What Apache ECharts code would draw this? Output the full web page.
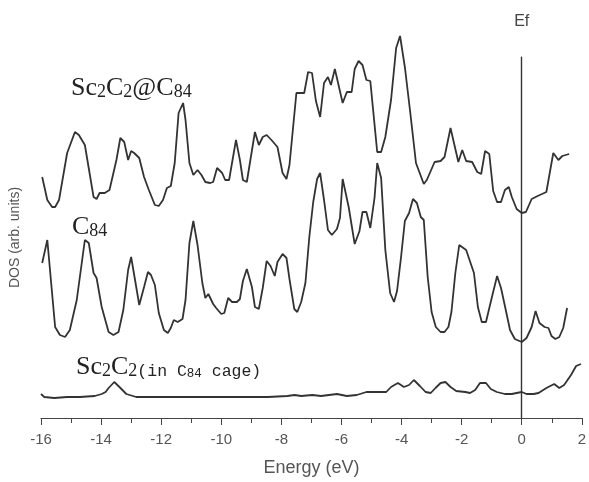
<!DOCTYPE html>
<html>
<head>
<meta charset="utf-8">
<title>DOS</title>
<script src="https://cdn.jsdelivr.net/npm/echarts@6/dist/echarts.min.js"></script>
<style>
  html, body { margin: 0; padding: 0; background: #fff; }
  #chart { width: 589px; height: 482px; }
</style>
</head>
<body>
<div id="chart"></div>
<script>
// energy axis ticks (eV)
var xTicks = [-16, -14, -12, -10, -8, -6, -4, -2, 0, 2];

// Sc2C2@C84 (top curve, offset upward)
var eTop = [-15.96, -15.79, -15.63, -15.53, -15.40, -15.13, -14.87, -14.74, -14.54, -14.25, -14.15, -14.05, -13.88, -13.72,
  -13.49, -13.36, -13.23, -13.10, -13.00, -12.90, -12.73, -12.57, -12.41, -12.21, -12.08, -11.94, -11.81, -11.68, -11.55,
  -11.42, -11.27, -11.19, -11.06, -10.93, -10.79, -10.66, -10.53, -10.37, -10.27, -10.14, -9.97, -9.87, -9.74, -9.51, -9.38,
  -9.28, -9.15, -8.88, -8.75, -8.62, -8.49, -8.33, -8.13, -7.96, -7.83, -7.73, -7.50, -7.24, -7.11, -6.98, -6.85, -6.71,
  -6.58, -6.45, -6.35, -6.22, -6.09, -5.96, -5.82, -5.66, -5.56, -5.43, -5.30, -5.17, -5.04, -4.81, -4.68, -4.54, -4.35,
  -4.18, -4.05, -3.89, -3.72, -3.52, -3.26, -3.16, -2.90, -2.70, -2.57, -2.37, -2.24, -2.11, -1.98, -1.85, -1.65, -1.48,
  -1.35, -1.22, -1.08, -0.95, -0.82, -0.69, -0.56, -0.43, -0.33, -0.17, 0.00, 0.14, 0.33, 0.53, 0.82, 1.05, 1.22, 1.35, 1.58];
var dosTop = [241, 218, 211, 211, 218, 265, 286, 283, 273, 221, 219, 225, 225, 228,
  258, 280, 276, 258, 267, 265, 260, 241, 228, 213, 212, 218, 230, 232, 255,
  305, 315, 298, 255, 243, 248, 243, 236, 235, 236, 250, 245, 238, 238, 278, 258,
  238, 236, 286, 273, 281, 283, 278, 271, 245, 239, 253, 325, 325, 346, 345, 317, 301,
  335, 341, 333, 349, 332, 315, 326, 326, 349, 357, 353, 338, 337, 266, 266, 281, 318,
  370, 382, 351, 308, 255, 234, 238, 256, 257, 261, 290, 273, 256, 268, 257, 256, 246,
  244, 267, 264, 227, 216, 216, 228, 231, 221, 209, 205, 206, 219, 222, 226, 265, 258, 262, 264];

// C84 (middle curve)
var eMid = [-15.96, -15.79, -15.53, -15.37, -15.20, -15.04, -14.81, -14.54, -14.41, -14.25, -14.15, -13.98, -13.75, -13.59,
  -13.42, -13.26, -13.10, -13.00, -12.87, -12.73, -12.57, -12.44, -12.34, -12.21, -12.08, -11.91, -11.78, -11.68, -11.58,
  -11.45, -11.29, -11.19, -11.06, -10.93, -10.79, -10.63, -10.53, -10.43, -10.27, -10.17, -10.00, -9.90, -9.77, -9.64,
  -9.48, -9.38, -9.28, -9.15, -8.98, -8.88, -8.75, -8.62, -8.49, -8.36, -8.22, -8.13, -7.96, -7.83, -7.73, -7.57, -7.47,
  -7.34, -7.20, -7.07, -6.94, -6.81, -6.71, -6.58, -6.45, -6.32, -6.15, -6.05, -5.96, -5.76, -5.56, -5.40, -5.30, -5.17,
  -5.04, -4.90, -4.81, -4.68, -4.54, -4.38, -4.25, -4.15, -4.02, -3.89, -3.75, -3.62, -3.49, -3.36, -3.26, -3.13, -3.00,
  -2.86, -2.70, -2.57, -2.44, -2.34, -2.21, -2.08, -1.85, -1.59, -1.46, -1.33, -1.19, -1.00, -0.82, -0.69, -0.56, -0.39,
  -0.23, 0.00, 0.16, 0.33, 0.46, 0.59, 0.76, 0.89, 0.99, 1.12, 1.25, 1.38, 1.51];
var dosMid = [155, 178, 91, 83, 81, 88, 118, 178, 175, 145, 140, 111, 86, 83,
  86, 108, 148, 161, 138, 113, 131, 146, 143, 133, 105, 88, 85, 90, 98,
  96, 99, 118, 175, 197, 173, 135, 120, 124, 114, 110, 104, 105, 120, 116,
  116, 119, 137, 149, 131, 111, 109, 130, 157, 152, 142, 156, 164, 160, 139, 109, 106,
  116, 135, 181, 216, 239, 245, 218, 188, 183, 189, 200, 239, 211, 174, 187, 206, 206,
  190, 220, 255, 240, 168, 125, 116, 127, 160, 197, 205, 219, 215, 201, 198, 141, 106,
  91, 86, 86, 91, 106, 145, 173, 168, 145, 111, 96, 96, 120, 142, 130, 112, 88,
  79, 76, 80, 91, 107, 95, 91, 90, 82, 79, 81, 90, 110];

// Sc2C2 inside the C84 cage (bottom curve)
var eBot = [-16.00, -15.89, -15.56, -15.13, -14.71, -14.21, -13.98, -13.85, -13.75, -13.56, -13.39, -13.16, -12.83, -11.75,
  -10.62, -9.54, -8.45, -7.80, -7.56, -7.34, -6.97, -6.68, -6.15, -5.82, -5.49, -5.17, -4.51, -4.35, -4.12, -3.92,
  -3.75, -3.59, -3.39, -3.20, -3.03, -2.87, -2.70, -2.54, -2.37, -2.18, -1.88, -1.72, -1.55, -1.39, -1.19, -1.03,
  -0.83, -0.56, -0.33, -0.17, 0.00, 0.16, 0.39, 0.56, 0.82, 1.08, 1.25, 1.41, 1.64, 1.81, 1.97];
var dosBot = [24, 21, 20, 21, 21, 22, 24, 26, 30, 36, 31, 24, 21, 21,
  21, 21, 21, 22, 23, 22, 23, 22, 24, 22, 23, 26, 26, 31, 35, 31,
  33, 38, 32, 26, 25, 30, 35, 36, 31, 27, 26, 25, 28, 35, 35, 29,
  26, 24, 24, 25, 26, 24, 24, 25, 30, 34, 30, 33, 43, 52, 54];

function pairs(xs, ys) {
  return xs.map(function (x, i) { return [x, ys[i]]; });
}

var chart = echarts.init(document.getElementById('chart'));

var lineStyle = { color: '#333', width: 1.8 };
var serif = 'Liberation Serif, serif';

var option = {
  animation: false,
  backgroundColor: '#fff',
  grid: { left: 38.7, right: 3, top: 57, bottom: 64 },
  xAxis: {
    type: 'value',
    min: -16,
    max: 2,
    interval: 2,
    name: 'Energy (eV)',
    nameLocation: 'middle',
    nameGap: 41,
    nameTextStyle: { fontSize: 18, color: '#555', fontFamily: 'Liberation Sans Narrow, Liberation Sans, sans-serif' },
    axisLine: { lineStyle: { color: '#444', width: 1.2 } },
    axisTick: { length: 7, lineStyle: { color: '#444' } },
    minorTick: { show: true, splitNumber: 2, length: 5, lineStyle: { color: '#444' } },
    axisLabel: {
      fontSize: 15, color: '#555', margin: 14,
      fontFamily: 'Liberation Sans Narrow, Liberation Sans, sans-serif',
      formatter: function (v) { return xTicks.indexOf(v) >= 0 ? String(v) : ''; }
    },
    splitLine: { show: false }
  },
  yAxis: {
    type: 'value',
    min: 0,
    max: 361,
    name: 'DOS (arb. units)',
    nameLocation: 'middle',
    nameGap: 19,
    nameRotate: 90,
    nameTextStyle: { fontSize: 14, color: '#555', fontFamily: 'Liberation Sans, sans-serif' },
    axisLine: { show: true, lineStyle: { color: '#222', width: 1.2 } },
    axisTick: { show: false },
    axisLabel: { show: false },
    splitLine: { show: false }
  },
  series: [
    {
      name: 'Sc2C2@C84', type: 'line', data: pairs(eTop, dosTop),
      showSymbol: false, clip: false, lineStyle: lineStyle,
      markLine: {
        silent: true, symbol: 'none',
        lineStyle: { color: '#333', width: 1.2, type: 'solid' },
        label: { show: true, position: 'end', formatter: 'Ef', color: '#444', fontSize: 16, distance: 27, fontFamily: 'Liberation Sans, sans-serif' },
        data: [{ xAxis: 0 }]
      }
    },
    { name: 'C84', type: 'line', data: pairs(eMid, dosMid), showSymbol: false, clip: false, lineStyle: lineStyle },
    { name: 'Sc2C2', type: 'line', data: pairs(eBot, dosBot), showSymbol: false, clip: false, lineStyle: lineStyle }
  ],
  graphic: [
    {
      type: 'text', left: 71, top: 75,
      style: {
        text: '{a|Sc}{s|2}{a|C}{s|2}{a|@C}{s|84}',
        rich: {
          a: { fontSize: 26, fontFamily: serif, fill: '#222', verticalAlign: 'bottom' },
          s: { fontSize: 18, fontFamily: serif, fill: '#222', verticalAlign: 'bottom' }
        }
      }
    },
    {
      type: 'text', left: 72, top: 214,
      style: {
        text: '{a|C}{s|84}',
        rich: {
          a: { fontSize: 26, fontFamily: serif, fill: '#222', verticalAlign: 'bottom' },
          s: { fontSize: 18, fontFamily: serif, fill: '#222', verticalAlign: 'bottom' }
        }
      }
    },
    {
      type: 'text', left: 76, top: 354,
      style: {
        text: '{a|Sc}{s|2}{a|C}{s|2}{m|(in C}{ms|84}{m| cage)}',
        rich: {
          a: { fontSize: 26, fontFamily: serif, fill: '#222', verticalAlign: 'bottom' },
          s: { fontSize: 18, fontFamily: serif, fill: '#222', verticalAlign: 'bottom' },
          m: { fontSize: 16.5, fontFamily: 'Liberation Mono, monospace', fill: '#222', verticalAlign: 'bottom' },
          ms: { fontSize: 12.5, fontFamily: 'Liberation Mono, monospace', fill: '#222', verticalAlign: 'bottom' }
        }
      }
    }
  ]
};

chart.setOption(option);
</script>
</body>
</html>
